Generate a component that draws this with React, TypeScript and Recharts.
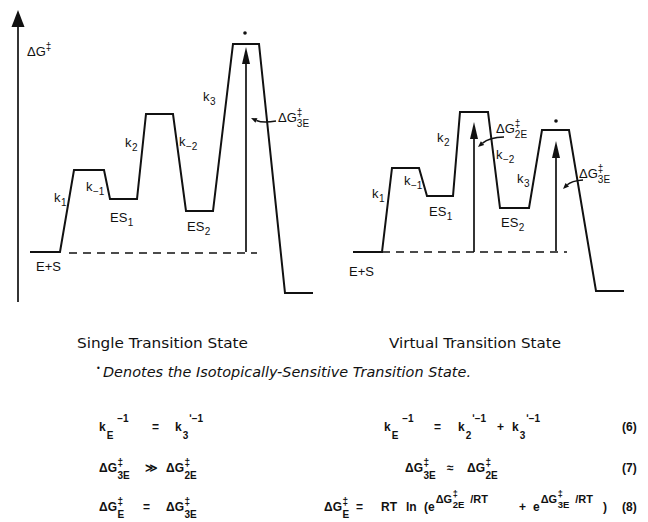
import React from "react";
import {
  ComposedChart,
  Line,
  Scatter,
  XAxis,
  YAxis,
  ReferenceLine,
  ReferenceDot,
} from "recharts";

const W = 648;
const H = 522;
const FONT = "'Liberation Sans', Arial, sans-serif";
const TITLE_FONT = "'DejaVu Sans', sans-serif";
const INK = "#111";

// reaction coordinate (x) and free energy relative to E+S (g)
const singleX = [30, 60, 74, 104, 110, 137, 146, 173, 186, 213, 233, 259, 285, 313];
const singleG = [0, 0, 82, 82, 53, 53, 138, 138, 41, 41, 208, 208, -41, -41];
const virtualX = [353, 382, 392, 419, 427, 453, 460, 488, 500, 529, 542, 569, 596, 624];
const virtualG = [0, 0, 84, 84, 56, 56, 140, 140, 44, 44, 122, 122, -39, -39];

// dashed E+S reference levels
const baseStart = [69, 382];
const baseEnd = [257, 567];
const baseG = [-1, 0];

// vertical ΔG‡ arrows
const barrierX = [246, 474, 556];
const barrierFrom = [0, 0, 1];
const barrierTo = [205, 130, 111];

// isotopically-sensitive transition state marks
const markX = [245, 556];
const markG = [219, 131];

// little curved pointers from the ΔG‡ labels to the arrows
const pointerFrom = [[276, 131], [504, 115], [583, 72]];
const pointerTo = [[251, 134], [478, 105], [563, 63]];
const pointerBend = [-4, 5, 4];

// labels: x = left edge, g = baseline
const labels = [
  { x: 27, g: 196, main: "ΔG", sup: "‡" },
  { x: 54, g: 50, main: "k", sub: "1" },
  { x: 86, g: 61, main: "k", sub: "−1" },
  { x: 110, g: 30, main: "ES", sub: "1" },
  { x: 125, g: 105, main: "k", sub: "2" },
  { x: 179, g: 106, main: "k", sub: "−2" },
  { x: 187, g: 21, main: "ES", sub: "2" },
  { x: 203, g: 151, main: "k", sub: "3" },
  { x: 36, g: -19, main: "E+S" },
  { x: 278, g: 130, main: "ΔG", sup: "‡", sub: "3E" },
  { x: 372, g: 54, main: "k", sub: "1" },
  { x: 404, g: 67, main: "k", sub: "−1" },
  { x: 429, g: 36, main: "ES", sub: "1" },
  { x: 437, g: 110, main: "k", sub: "2" },
  { x: 496, g: 93, main: "k", sub: "−2" },
  { x: 517, g: 69, main: "k", sub: "3" },
  { x: 501, g: 25, main: "ES", sub: "2" },
  { x: 349, g: -24, main: "E+S" },
  { x: 496, g: 119, main: "ΔG", sup: "‡", sub: "2E" },
  { x: 579, g: 74, main: "ΔG", sup: "‡", sub: "3E" },
];

const singleData = singleX.map((x, i) => ({ x, g: singleG[i] }));
const virtualData = virtualX.map((x, i) => ({ x, g: virtualG[i] }));

function arrowShape(head: number, width: number, sw: number) {
  return (p: any) => {
    const { x1, y1, x2, y2 } = p;
    const len = Math.hypot(x2 - x1, y2 - y1) || 1;
    const ux = (x2 - x1) / len;
    const uy = (y2 - y1) / len;
    const bx = x2 - ux * head;
    const by = y2 - uy * head;
    const nx = (-uy * width) / 2;
    const ny = (ux * width) / 2;
    return (
      <g>
        <line x1={x1} y1={y1} x2={bx} y2={by} stroke={INK} strokeWidth={sw} />
        <polygon points={`${x2},${y2} ${bx + nx},${by + ny} ${bx - nx},${by - ny}`} fill={INK} />
      </g>
    );
  };
}

function curvedShape(bend: number) {
  return (p: any) => {
    const { x1, y1, x2, y2 } = p;
    const len = Math.hypot(x2 - x1, y2 - y1) || 1;
    const cx = (x1 + x2) / 2 + (-(y2 - y1) / len) * bend;
    const cy = (y1 + y2) / 2 + ((x2 - x1) / len) * bend;
    const dl = Math.hypot(x2 - cx, y2 - cy) || 1;
    const ux = (x2 - cx) / dl;
    const uy = (y2 - cy) / dl;
    const head = 6;
    const bx = x2 - ux * head;
    const by = y2 - uy * head;
    const nx = -uy * 2.5;
    const ny = ux * 2.5;
    return (
      <g>
        <path d={`M${x1},${y1} Q${cx},${cy} ${bx},${by}`} fill="none" stroke={INK} strokeWidth={1.5} />
        <polygon points={`${x2},${y2} ${bx + nx},${by + ny} ${bx - nx},${by - ny}`} fill={INK} />
      </g>
    );
  };
}

const LabelMark = (p: any) => {
  const { cx, cy, payload } = p;
  return (
    <text x={cx} y={cy} fontFamily={FONT} fontSize={13} fill={INK}>
      {payload.main}
      {payload.sup ? (
        <tspan fontSize={10} dy={-6}>
          {payload.sup}
        </tspan>
      ) : null}
      {payload.sub ? (
        <tspan fontSize={10} dx={payload.sup ? -5.5 : 0.5} dy={payload.sup ? 11 : 4}>
          {payload.sub}
        </tspan>
      ) : null}
    </text>
  );
};

// equation text helpers: [text, baseline offset, size, dx]
type Part = [string, number, number, number?];
const M = 12;
const S = 10;
const dg = (sub: string): Part[] => [
  ["ΔG", 0, M],
  ["‡", -6, S, 0.5],
  [sub, 7, S, -5.5],
];
const kk = (sub: string, sup: string): Part[] => [
  ["k", 0, M],
  [sub, 8, S, 1],
  [sup, -9, S, 1],
];
const sym = (t: string): Part[] => [[t, 0, M]];
const ex = (sub: string): Part[] => [
  ["ΔG", -8, 11, 1],
  ["‡", -14, 9, 0.5],
  [sub, -3, 9.5, -5],
  ["/RT", -8, 11, 6],
];

const equations: { x: number; y: number; parts: Part[] }[] = [
  { x: 99, y: 431, parts: kk("E", " −1") },
  { x: 152, y: 431, parts: sym("=") },
  { x: 175, y: 431, parts: kk("3", "ʹ−1") },
  { x: 384, y: 431, parts: kk("E", " −1") },
  { x: 434, y: 431, parts: sym("=") },
  { x: 458, y: 431, parts: kk("2", "ʹ−1") },
  { x: 497, y: 431, parts: sym("+") },
  { x: 512, y: 431, parts: kk("3", "ʹ−1") },
  { x: 622, y: 431, parts: sym("(6)") },
  { x: 99, y: 472, parts: dg("3E") },
  { x: 145, y: 472, parts: sym("≫") },
  { x: 166, y: 472, parts: dg("2E") },
  { x: 405, y: 472, parts: dg("3E") },
  { x: 447, y: 472, parts: sym("≈") },
  { x: 467, y: 472, parts: dg("2E") },
  { x: 622, y: 472, parts: sym("(7)") },
  { x: 99, y: 511, parts: dg("E") },
  { x: 143, y: 511, parts: sym("=") },
  { x: 166, y: 511, parts: dg("3E") },
  { x: 324, y: 511, parts: dg("E") },
  { x: 356, y: 511, parts: sym("=") },
  { x: 381, y: 511, parts: sym("RT") },
  { x: 406, y: 511, parts: sym("ln") },
  { x: 424, y: 511, parts: [["(e", 0, M], ...ex("2E")] },
  { x: 519, y: 511, parts: sym("+") },
  { x: 533, y: 511, parts: [["e", 0, M], ...ex("3E")] },
  { x: 603, y: 511, parts: sym(")") },
  { x: 622, y: 511, parts: sym("(8)") },
];

function Eq({ x, y, parts }: { x: number; y: number; parts: Part[] }) {
  let prev = 0;
  return (
    <text x={x} y={y} fontFamily={FONT} fontWeight={700} fill={INK}>
      {parts.map(([t, off, size, dx], i) => {
        const dy = off - prev;
        prev = off;
        return (
          <tspan key={i} dy={dy} dx={dx ?? 0} fontSize={size}>
            {t}
          </tspan>
        );
      })}
    </text>
  );
}

export default function App() {
  return (
    <div style={{ position: "absolute", left: 0, top: 0, width: W, height: H, background: "#fff" }}>
      <ComposedChart width={W} height={H} margin={{ top: 0, right: 0, bottom: 0, left: 0 }}>
        <XAxis type="number" dataKey="x" domain={[0, W]} hide allowDataOverflow />
        <YAxis type="number" dataKey="g" domain={[252 - H, 252]} hide allowDataOverflow />

        <ReferenceLine
          segment={[
            { x: 18, y: -50 },
            { x: 18, y: 242 },
          ]}
          shape={arrowShape(17, 13, 1.7)}
        />

        {baseStart.map((x, i) => (
          <ReferenceLine
            key={`b${i}`}
            segment={[
              { x, y: baseG[i] },
              { x: baseEnd[i], y: baseG[i] },
            ]}
            stroke={INK}
            strokeWidth={1.7}
            strokeDasharray="8 6"
          />
        ))}

        {barrierX.map((x, i) => (
          <ReferenceLine
            key={`a${i}`}
            segment={[
              { x, y: barrierFrom[i] },
              { x, y: barrierTo[i] },
            ]}
            shape={arrowShape(17, 8, 1.7)}
          />
        ))}

        {pointerFrom.map((f, i) => (
          <ReferenceLine
            key={`p${i}`}
            segment={[
              { x: f[0], y: f[1] },
              { x: pointerTo[i][0], y: pointerTo[i][1] },
            ]}
            shape={curvedShape(pointerBend[i])}
          />
        ))}

        <Line
          data={singleData}
          dataKey="g"
          type="linear"
          stroke={INK}
          strokeWidth={2}
          dot={false}
          activeDot={false}
          isAnimationActive={false}
        />
        <Line
          data={virtualData}
          dataKey="g"
          type="linear"
          stroke={INK}
          strokeWidth={2}
          dot={false}
          activeDot={false}
          isAnimationActive={false}
        />

        {markX.map((x, i) => (
          <ReferenceDot key={`m${i}`} x={x} y={markG[i]} r={1.8} fill={INK} stroke="none" />
        ))}

        <Scatter data={labels} dataKey="g" shape={LabelMark} isAnimationActive={false} />
      </ComposedChart>

      <svg
        width={W}
        height={H}
        style={{ position: "absolute", left: 0, top: 0, pointerEvents: "none" }}
      >
        <text x={77} y={348} fontFamily={TITLE_FONT} fontSize={14} fill={INK} textLength={171} lengthAdjust="spacingAndGlyphs">
          Single Transition State
        </text>
        <text x={389} y={348} fontFamily={TITLE_FONT} fontSize={14} fill={INK} textLength={172} lengthAdjust="spacingAndGlyphs">
          Virtual Transition State
        </text>
        <text x={96} y={371} fontFamily={TITLE_FONT} fontSize={8} fill={INK}>
          •
        </text>
        <text
          x={103}
          y={377}
          fontFamily={TITLE_FONT}
          fontSize={14}
          fontStyle="italic"
          fill={INK}
          textLength={368}
          lengthAdjust="spacingAndGlyphs"
        >
          Denotes the Isotopically-Sensitive Transition State.
        </text>
        {equations.map((e, i) => (
          <Eq key={i} {...e} />
        ))}
      </svg>
    </div>
  );
}
